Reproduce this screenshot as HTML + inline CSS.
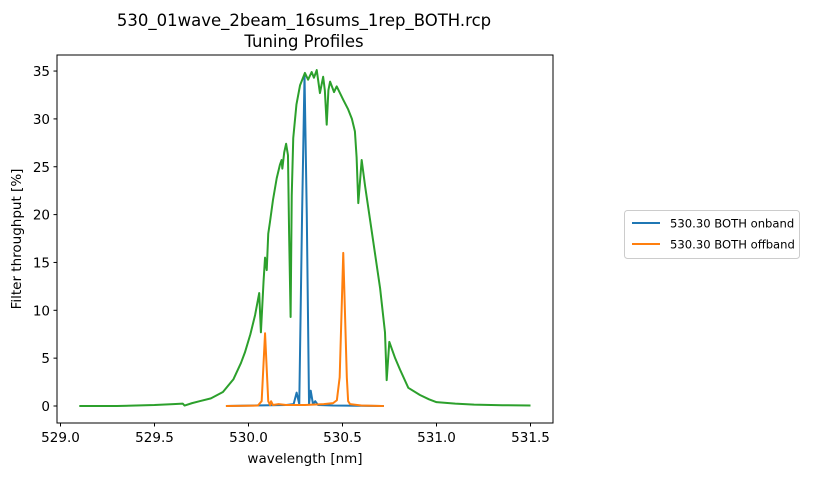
<!DOCTYPE html>
<html><head><meta charset="utf-8"><style>
body{margin:0;background:#fff;}
svg text{font-family:"DejaVu Sans","Liberation Sans",sans-serif;fill:#000;}
</style></head><body>
<svg id="c" width="833" height="476" xmlns="http://www.w3.org/2000/svg">
<text x="304" y="26" font-size="16.5" text-anchor="middle">530_01wave_2beam_16sums_1rep_BOTH.rcp</text>
<text x="304" y="47" font-size="16.5" text-anchor="middle">Tuning Profiles</text>
<g id="plot"></g>
<rect x="57" y="55" width="496" height="368" fill="none" stroke="#000" stroke-width="1"/>
<text x="305" y="463" font-size="13.5" text-anchor="middle">wavelength [nm]</text>
<text transform="translate(21,239) rotate(-90)" font-size="13.5" text-anchor="middle">Filter throughput [%]</text>
<g>
<rect x="624.5" y="210.5" width="175" height="48" rx="3" fill="#fff" stroke="#ccc"/>
<line x1="632" y1="223" x2="660" y2="223" stroke="#1f77b4" stroke-width="2"/>
<text x="670" y="227.5" font-size="11.6">530.30 BOTH onband</text>
<line x1="632" y1="244" x2="660" y2="244" stroke="#ff7f0e" stroke-width="2"/>
<text x="670" y="248.5" font-size="11.6">530.30 BOTH offband</text>
</g>
</svg>
<script>
const xTicks=[529.0,529.5,530.0,530.5,531.0,531.5];
const yTicks=[0,5,10,15,20,25,30,35];
const greenWl=[529.1,529.3,529.5,529.6,529.65,529.66,529.7,529.74,529.8,529.864,529.92,529.96,529.981,530.01,530.035,530.057,530.066,530.08,530.088,530.097,530.105,530.114,530.13,530.15,530.167,530.176,530.18,530.19,530.2,530.21,530.216,530.224,530.23,530.238,530.255,530.274,530.3,530.317,530.336,530.348,530.363,530.38,530.397,530.406,530.416,530.425,530.434,530.455,530.469,530.504,530.53,530.55,530.566,530.575,530.584,530.602,530.62,530.65,530.7,530.726,530.735,530.749,530.78,530.806,530.85,530.912,530.96,531.0,531.1,531.2,531.35,531.5];
const greenVal=[0,0,0.1,0.2,0.25,0.05,0.3,0.5,0.8,1.46,2.8,4.5,5.6,7.5,9.5,11.8,7.7,13,15.5,14.2,18,19.2,21.5,23.8,25.2,25.7,24.8,26.5,27.4,26.2,18,9.3,22,28,31.5,33.5,34.8,34.1,34.9,34.3,35.1,32.7,34.4,33,29.4,33,33.9,32.8,33.4,32,31,30,28.7,26,21.2,25.7,23,19,12.3,7.7,2.7,6.7,5,3.8,1.9,1.15,0.7,0.4,0.25,0.15,0.08,0.05];
const blueWl=[529.88,530.2,530.24,530.256,530.27,530.285,530.298,530.31,530.322,530.331,530.343,530.355,530.37,530.45,530.72];
const blueVal=[0,0.1,0.2,1.4,0.2,20,34.5,20,0.2,1.6,0.2,0.5,0.1,0.05,0];
const orangeWl=[529.88,530.05,530.07,530.088,530.105,530.115,530.12,530.13,530.16,530.2,530.3,530.4,530.45,530.47,530.485,530.504,530.523,530.53,530.54,530.6,530.72];
const orangeVal=[0,0.05,0.5,7.6,0.5,0.1,0.5,0.1,0.2,0.1,0.1,0.2,0.3,0.6,3,16,3,0.5,0.2,0.05,0];
const X=v=>60.5+(v-529)*188;
const Y=v=>406-v*9.57;
const NS="http://www.w3.org/2000/svg";
const g=document.getElementById('plot');
function mk(t,a){const e=document.createElementNS(NS,t);for(const k in a)e.setAttribute(k,a[k]);g.appendChild(e);return e;}
xTicks.forEach(t=>{
 const l=mk('line',{x1:X(t),x2:X(t),y1:423,y2:426.5,stroke:'#000'});
 
 
 const s=mk('text',{x:X(t),y:442,'font-size':'13.5','text-anchor':'middle'});s.textContent=t.toFixed(1);
 
 
});
yTicks.forEach(t=>{
 const l=mk('line',{x1:53.5,x2:57,y1:Y(t),y2:Y(t),stroke:'#000'});
 
 
 const s=mk('text',{x:50,y:Y(t)+5,'font-size':'13.5','text-anchor':'end'});s.textContent=t;
 
 
});
function line(wl,val,col,name){
 const p=mk('polyline',{points:wl.map((w,i)=>X(w)+','+Y(val[i])).join(' '),fill:'none',stroke:col,'stroke-width':'2','stroke-linejoin':'round'});
 
 
}
line(blueWl,blueVal,'#1f77b4','onband-line');
line(orangeWl,orangeVal,'#ff7f0e','offband-line');
line(greenWl,greenVal,'#2ca02c','prefilter-line');
</script>
</body></html>
